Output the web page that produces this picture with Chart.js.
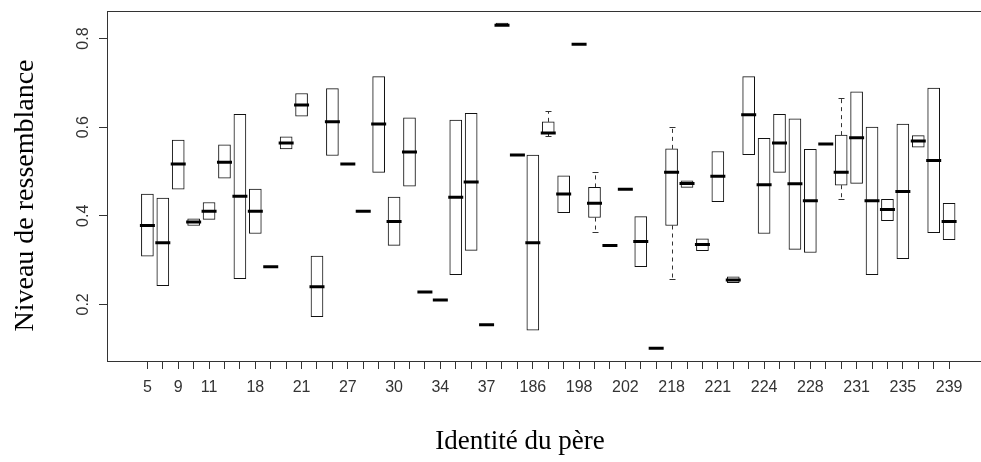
<!DOCTYPE html>
<html>
<head>
<meta charset="utf-8">
<script src="https://cdn.jsdelivr.net/npm/chart.js@4.4.1/dist/chart.umd.min.js"></script>
<style>
  html, body { margin: 0; padding: 0; background: #fff; overflow: hidden; width: 981px; height: 462px; }
  #wrap { width: 1000px; height: 462px; }
</style>
</head>
<body>
<div id="wrap"><canvas id="c" width="1000" height="462"></canvas></div>
<script>
// Father identities (categories); only some are printed on the axis, as in the original
const fathers = ['5','7','9','10','11','14','16','18','19','20','21','24','25','27','28','29','30','31','32','34','35','36','37','38','185','186','190','195','198','200','201','202','210','215','218','219','220','221','222','223','224','225','227','228','229','230','231','232','234','235','236','238','239'];
const labelledIdx = [0,2,4,7,10,13,16,19,22,25,28,31,34,37,40,43,46,49,52];

// Box statistics per father
const q1Values = [0.309,0.242,0.460,0.378,0.392,0.485,0.258,0.360,0.285,0.551,0.625,0.172,0.536,0.517,0.410,0.498,0.333,0.467,0.228,0.210,0.267,0.322,0.154,0.830,0.537,0.142,0.587,0.407,0.787,0.396,0.333,0.460,0.285,0.101,0.378,0.464,0.321,0.432,0.249,0.538,0.360,0.498,0.324,0.317,0.562,0.469,0.473,0.267,0.389,0.303,0.555,0.362,0.346];
const medianValues = [0.378,0.339,0.517,0.386,0.410,0.521,0.444,0.410,0.285,0.564,0.650,0.240,0.612,0.517,0.410,0.607,0.387,0.544,0.228,0.210,0.442,0.476,0.154,0.830,0.537,0.339,0.587,0.449,0.787,0.428,0.333,0.460,0.342,0.101,0.498,0.473,0.335,0.489,0.255,0.628,0.470,0.564,0.472,0.434,0.562,0.498,0.576,0.434,0.414,0.455,0.569,0.525,0.387];
const q3Values = [0.449,0.440,0.571,0.393,0.430,0.560,0.629,0.460,0.285,0.578,0.676,0.309,0.687,0.517,0.410,0.714,0.442,0.621,0.228,0.210,0.616,0.631,0.154,0.835,0.537,0.537,0.612,0.490,0.787,0.464,0.333,0.460,0.398,0.101,0.551,0.479,0.348,0.545,0.262,0.714,0.575,0.629,0.619,0.550,0.562,0.582,0.680,0.600,0.437,0.607,0.581,0.688,0.428];
const whiskerLow = [null,null,null,null,null,null,null,null,null,null,null,null,null,null,null,null,null,null,null,null,null,null,null,null,null,null,0.581,null,null,0.363,null,null,null,null,0.258,null,null,null,null,null,null,null,null,null,null,0.437,null,null,null,null,null,null,null];
const whiskerHigh = [null,null,null,null,null,null,null,null,null,null,null,null,null,null,null,null,null,null,null,null,null,null,null,null,null,null,0.637,null,null,0.498,null,null,null,null,0.600,null,null,null,null,null,null,null,null,null,null,0.666,null,null,null,null,null,null,null];

const yTicks = [0.2, 0.4, 0.6, 0.8];
const yTickLabels = ['0.2', '0.4', '0.6', '0.8'];
const xTitle = 'Identité du père';
const yTitle = 'Niveau de ressemblance';

const whiskerPlugin = {
  id: 'whiskers',
  beforeDatasetsDraw(chart) {
    const ctx = chart.ctx, xs = chart.scales.x, ys = chart.scales.y;
    ctx.save();
    ctx.strokeStyle = '#333';
    ctx.lineWidth = 1;
    fathers.forEach((f, i) => {
      const x = Math.round(xs.getPixelForValue(i)) + 0.5;
      [[whiskerHigh[i], q3Values[i]], [whiskerLow[i], q1Values[i]]].forEach(([w, b]) => {
        if (w === null) return;
        const yw = Math.round(ys.getPixelForValue(w)) + 0.5;
        const yb = ys.getPixelForValue(b);
        ctx.setLineDash([4, 4]);
        ctx.beginPath(); ctx.moveTo(x, yb); ctx.lineTo(x, yw); ctx.stroke();
        ctx.setLineDash([]);
        ctx.beginPath(); ctx.moveTo(x - 3, yw); ctx.lineTo(x + 3, yw); ctx.stroke();
      });
    });
    ctx.restore();
  }
};

const framePlugin = {
  id: 'frameAndText',
  afterDraw(chart) {
    const ctx = chart.ctx, a = chart.chartArea, ys = chart.scales.y;
    ctx.save();
    ctx.strokeStyle = '#333';
    ctx.lineWidth = 1;
    ctx.strokeRect(Math.round(a.left) + 0.5, Math.round(a.top) + 0.5, Math.round(a.right - a.left), Math.round(a.bottom - a.top) - 1);
    // rotated y tick labels
    ctx.fillStyle = '#333';
    ctx.font = '16px "Liberation Sans", Arial, sans-serif';
    ctx.textAlign = 'center';
    ctx.textBaseline = 'alphabetic';
    yTicks.forEach((v, k) => {
      ctx.save();
      ctx.translate(88, ys.getPixelForValue(v));
      ctx.rotate(-Math.PI / 2);
      ctx.fillText(yTickLabels[k], 0, 0);
      ctx.restore();
    });
    // axis titles
    ctx.fillStyle = '#000';
    ctx.font = '28px "Liberation Serif", "Times New Roman", serif';
    ctx.save();
    ctx.translate(33, 195.5);
    ctx.rotate(-Math.PI / 2);
    ctx.fillText(yTitle, 0, 0);
    ctx.restore();
    ctx.font = '27px "Liberation Serif", "Times New Roman", serif';
    ctx.fillText(xTitle, 520, 449);
    ctx.restore();
  }
};

new Chart(document.getElementById('c'), {
  type: 'bar',
  data: {
    datasets: [
      {
        type: 'scatter',
        data: medianValues.map((m, i) => ({ x: i, y: m })),
        pointStyle: 'line',
        radius: 7.5,
        borderWidth: 3,
        borderColor: '#000',
        backgroundColor: '#000',
        order: 0
      },
      {
        type: 'bar',
        data: fathers.map((f, i) => ({ x: i, y: [q1Values[i], q3Values[i]] })),
        backgroundColor: '#fff',
        borderColor: '#111',
        borderWidth: 1,
        borderSkipped: false,
        barThickness: 12,
        order: 1
      }
    ]
  },
  options: {
    responsive: false,
    animation: false,
    devicePixelRatio: 1,
    events: [],
    layout: { padding: { top: 9, right: 9.5, left: 0, bottom: 0 } },
    plugins: { legend: { display: false }, tooltip: { enabled: false } },
    scales: {
      x: {
        type: 'linear',
        offset: false,
        min: -2.62,
        max: 54.62,
        afterBuildTicks: s => { s.ticks = fathers.map((f, i) => ({ value: i })); },
        afterFit: s => { s.height = 101; },
        border: { display: false },
        grid: { offset: false, drawOnChartArea: false, drawTicks: true, tickLength: 8, color: '#333', lineWidth: 1 },
        ticks: {
          autoSkip: false, maxRotation: 0, minRotation: 0, padding: 9,
          color: '#333',
          font: { family: '"Liberation Sans", Arial, sans-serif', size: 16 },
          callback: v => labelledIdx.includes(v) ? fathers[v] : ''
        }
      },
      y: {
        type: 'linear',
        min: 0.0722,
        max: 0.8633,
        afterBuildTicks: s => { s.ticks = yTicks.map(v => ({ value: v })); },
        afterFit: s => { s.width = 107; },
        border: { display: false },
        grid: { drawOnChartArea: false, drawTicks: true, tickLength: 8, color: '#333', lineWidth: 1 },
        ticks: { display: false }
      }
    }
  },
  plugins: [whiskerPlugin, framePlugin]
});
</script>
</body>
</html>
